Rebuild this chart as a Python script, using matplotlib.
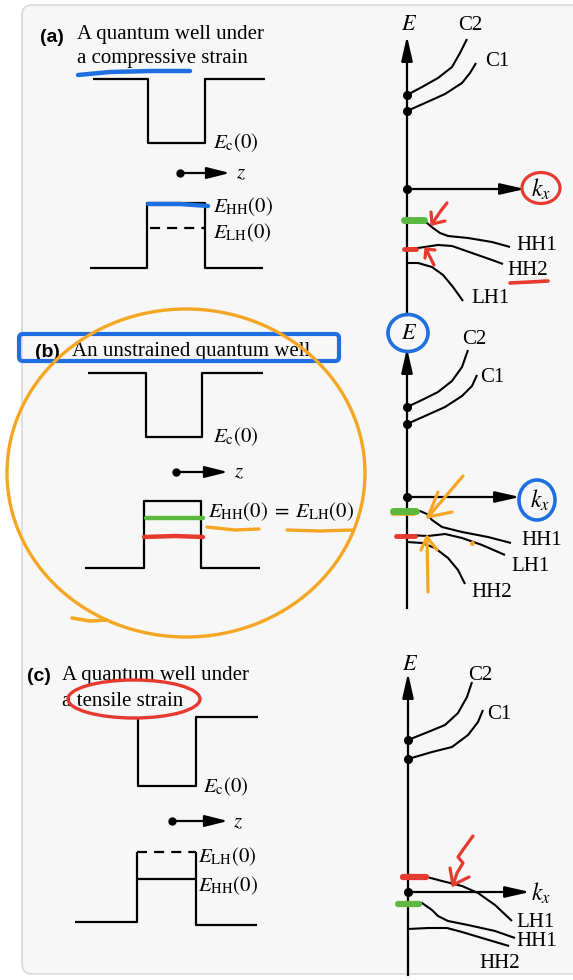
import matplotlib
matplotlib.use('Agg')
import matplotlib.pyplot as plt
from matplotlib.patches import Ellipse, FancyBboxPatch

plt.rcParams['mathtext.fontset'] = 'stix'

# ---------------- data (pixel coordinates of the reference diagram) ----------------
PANEL_TAGS = ["(a)", "(b)", "(c)"]
TITLE_LINE1 = ["A quantum well under", "An unstrained quantum well", "A quantum well under"]
TITLE_LINE2 = ["a compressive strain", "", "a tensile strain"]

# band dispersion curves (x, y)
A_C2 = [(407, 95), (422, 87), (438, 78), (452, 67), (460, 53), (467, 39)]
A_C1 = [(407, 111), (425, 103), (445, 94), (462, 83), (470, 73), (476, 63)]
A_HH1 = [(407, 222), (422, 220), (427, 223), (433, 228), (440, 233), (448, 236),
         (468, 238), (492, 242), (510, 247)]
A_HH2 = [(407, 249), (418, 248), (438, 245), (452, 246), (472, 253), (492, 260), (503, 264)]
A_LH1 = [(407, 263), (418, 263), (432, 267), (443, 275), (453, 287), (463, 301)]

B_C2 = [(407, 407), (422, 400), (438, 392), (452, 381), (462, 367), (468, 350)]
B_C1 = [(407, 424), (425, 416), (445, 407), (462, 396), (472, 386), (477, 375)]
B_HH1 = [(407, 511), (420, 511), (427, 514), (432, 520), (442, 527), (462, 532),
         (488, 537), (511, 543)]
B_LH1 = [(407, 535), (428, 536), (445, 534), (462, 538), (482, 545), (505, 555)]
B_HH2 = [(407, 542), (422, 543), (435, 548), (448, 558), (458, 570), (465, 584)]

C_C2 = [(408, 740), (428, 732), (445, 725), (458, 713), (467, 697), (472, 682)]
C_C1 = [(408, 759), (432, 752), (452, 747), (468, 735), (478, 722), (483, 710)]
C_LH1 = [(408, 876), (427, 877), (442, 881), (462, 886), (478, 893), (495, 905), (512, 921)]
C_HH1 = [(408, 902), (422, 903), (432, 910), (438, 916), (448, 921), (468, 925),
         (495, 931), (515, 938)]
C_HH2 = [(408, 929), (428, 928), (447, 928), (462, 932), (482, 938), (509, 946)]

CURVE_LABELS_A = [("C2", 458, 25), ("C1", 485, 62), ("HH1", 516, 245), ("HH2", 507, 270), ("LH1", 471, 298)]
CURVE_LABELS_B = [("C2", 462, 339), ("C1", 480, 377), ("HH1", 521, 540), ("LH1", 511, 566), ("HH2", 471, 592)]
CURVE_LABELS_C = [("C2", 468, 675), ("C1", 487, 714), ("LH1", 516, 922), ("HH1", 516, 941), ("HH2", 479, 963)]

# ---------------- figure ----------------
W, H = 573, 980
fig = plt.figure(figsize=(W / 100, H / 100), dpi=100)
ax = fig.add_axes([0, 0, 1, 1])
ax.set_xlim(0, W)
ax.set_ylim(H, 0)
ax.axis('off')

ax.add_patch(FancyBboxPatch((22, 5), 620, 969, boxstyle='round,pad=0,rounding_size=10',
                            fc='#f7f7f7', ec='#d9d9d9', lw=1.2, zorder=0))

K = 'black'
LW = 1.6
SERIF = 'Liberation Serif'
FS = 15

BLUE = '#1f6fe0'
RED = '#e63a2e'
GREEN = '#5cb840'
ORANGE = '#f5a623'


def poly(pts, **kw):
    xs = [p[0] for p in pts]
    ys = [p[1] for p in pts]
    kw.setdefault('color', K)
    kw.setdefault('lw', LW)
    ax.plot(xs, ys, solid_capstyle='butt', **kw)


def arrow(start, tip, hl=14, hw=3.5, lw=LW, color=K):
    ax.annotate('', xy=tip, xytext=start,
                arrowprops=dict(arrowstyle=f'-|>,head_length={hl},head_width={hw}',
                                mutation_scale=1, lw=lw, color=color,
                                shrinkA=0, shrinkB=0, fc=color))


def txt(x, y, s, size=FS, **kw):
    kw.setdefault('family', SERIF)
    ax.text(x, y, s, fontsize=size, ha='left', va='center', color=K, **kw)


def mark(x0, x1, y, color, lw=4):
    ax.plot([x0, x1], [y, y], color=color, lw=lw, solid_capstyle='round', zorder=5)


def hand(pts, color, lw=2.6):
    xs = [p[0] for p in pts]
    ys = [p[1] for p in pts]
    ax.plot(xs, ys, color=color, lw=lw, solid_capstyle='round', solid_joinstyle='round', zorder=6)


# ---------------- titles ----------------
tag_pos = [(40, 37), (35, 352), (27, 676)]
t1_pos = [(77, 35), (72, 351), (62, 675)]
t2_pos = [(77, 59), None, (62, 701)]
for i in range(3):
    ax.text(*tag_pos[i], PANEL_TAGS[i], fontsize=14, family='Liberation Sans', weight='bold',
            ha='left', va='center')
    txt(*t1_pos[i], TITLE_LINE1[i])
    if t2_pos[i] is not None:
        txt(*t2_pos[i], TITLE_LINE2[i])

# ---------------- left: wells ----------------
# (a)
poly([(93, 79), (148, 79), (148, 143), (205, 143), (205, 79), (265, 79)])
poly([(90, 268), (147, 268), (147, 203), (205, 203), (205, 268), (263, 268)])
ax.plot([150, 205], [228, 228], color=K, lw=LW, dashes=(4.5, 3.2))
txt(213, 143, r'$E_{\mathrm{c}}(0)$')
txt(213, 207, r'$E_{\mathrm{HH}}(0)$')
txt(213, 233, r'$E_{\mathrm{LH}}(0)$')
ax.plot([180], [173], 'o', color=K, ms=5)
arrow((180, 173), (230, 173))
txt(236, 174, r'$z$')

# (b)
poly([(88, 373), (146, 373), (146, 437), (202, 437), (202, 373), (263, 373)])
poly([(85, 568), (144, 568), (144, 501), (201, 501), (201, 568), (260, 568)])
txt(213, 437, r'$E_{\mathrm{c}}(0)$')
txt(208, 512, r'$E_{\mathrm{HH}}(0)\;=\;E_{\mathrm{LH}}(0)$')
ax.plot([176], [472], 'o', color=K, ms=5)
arrow((176, 472), (228, 472))
txt(234, 473, r'$z$')

# (c)
poly([(138, 717), (138, 786), (196, 786), (196, 717), (258, 717)])
poly([(75, 922), (137, 922), (137, 852)])
poly([(196, 852), (196, 925), (257, 925)])
ax.plot([137, 196], [852, 852], color=K, lw=LW, dashes=(4.5, 3.2))
poly([(137, 879), (196, 879)])
txt(203, 787, r'$E_{\mathrm{c}}(0)$')
txt(198, 857, r'$E_{\mathrm{LH}}(0)$')
txt(198, 886, r'$E_{\mathrm{HH}}(0)$')
ax.plot([172], [821], 'o', color=K, ms=5)
arrow((172, 821), (228, 821))
txt(233, 823, r'$z$')

# ---------------- right: band diagrams ----------------
axis_x = [407, 407, 408]
axis_top = [36, 348, 673]
axis_bot = [315, 608, 975]
E_pos = [(409, 24), (409, 333), (410, 664)]
kx_y = [189, 497, 892]
kx_end = [525, 520, 530]
kx_lab = [(541, 189), (540, 500), (541, 893)]
dots = [[95, 111, 189], [407, 424, 497], [740, 759, 892]]
curves = [[A_C2, A_C1, A_HH1, A_HH2, A_LH1],
          [B_C2, B_C1, B_HH1, B_LH1, B_HH2],
          [C_C2, C_C1, C_LH1, C_HH1, C_HH2]]
labels = [CURVE_LABELS_A, CURVE_LABELS_B, CURVE_LABELS_C]

for i in range(3):
    x = axis_x[i]
    ax.plot([x, x], [axis_bot[i], axis_top[i] + 12], color=K, lw=LW)
    arrow((x, axis_top[i] + 14), (x, axis_top[i]), hl=15, hw=3.4)
    ax.text(E_pos[i][0], E_pos[i][1], r'$E$', fontsize=FS + 1, ha='center', va='center')
    ax.plot([x, kx_end[i] - 10], [kx_y[i], kx_y[i]], color=K, lw=LW)
    arrow((kx_end[i] - 12, kx_y[i]), (kx_end[i], kx_y[i]), hl=15, hw=3.4)
    ax.text(kx_lab[i][0], kx_lab[i][1], r'$k_x$', fontsize=FS + 2, ha='center', va='center')
    ax.plot([x] * 3, dots[i], 'o', color=K, ms=5.5)
    for c in curves[i]:
        poly(c, lw=1.5)
    for (s, lx, ly) in labels[i]:
        txt(lx, ly, s)

# ---------------- hand annotations ----------------
# (a)
hand([(78, 75), (110, 72), (150, 71), (190, 71)], BLUE, lw=3.2)
hand([(148, 204), (180, 204), (208, 206)], BLUE, lw=3.2)
ax.add_patch(Ellipse((541, 188), 38, 31, fill=False, ec=RED, lw=2.3, zorder=6))
mark(404, 424, 220, GREEN, lw=5)
mark(404, 416, 249, RED, lw=3.5)
hand([(447, 203), (440, 212), (432, 224)], RED, lw=2.3)
hand([(431, 212), (432, 224), (445, 221)], RED, lw=2.3)
hand([(434, 265), (430, 257), (426, 249)], RED, lw=2.3)
hand([(425, 258), (426, 249), (435, 250)], RED, lw=2.3)
hand([(510, 283), (530, 282), (548, 281)], RED, lw=2.6)

# (b)
ax.add_patch(FancyBboxPatch((19, 334), 320, 27, boxstyle='round,pad=0,rounding_size=4',
                            fill=False, ec=BLUE, lw=3, zorder=6))
ax.add_patch(Ellipse((186, 473), 358, 328, fill=False, ec=ORANGE, lw=2.4, zorder=6))
hand([(72, 618), (90, 621), (107, 620)], ORANGE, lw=2.6)
hand([(146, 518), (175, 518), (203, 518)], GREEN, lw=3.2)
hand([(144, 537), (175, 536), (203, 537)], RED, lw=3.2)
hand([(207, 527), (235, 530), (259, 529)], ORANGE, lw=2.4)
hand([(287, 530), (320, 531), (352, 530)], ORANGE, lw=2.4)
ax.add_patch(Ellipse((408, 333), 40, 37, fill=False, ec=BLUE, lw=2.6, zorder=6))
ax.add_patch(Ellipse((537, 500), 36, 40, fill=False, ec=BLUE, lw=2.6, zorder=6))
mark(393, 414, 513, ORANGE, lw=4)
mark(393, 416, 511, GREEN, lw=5)
mark(396, 415, 536, RED, lw=3.5)
hand([(463, 476), (428, 517)], ORANGE, lw=2.3)
hand([(438, 492), (428, 517), (452, 512)], ORANGE, lw=2.3)
hand([(428, 592), (427, 537)], ORANGE, lw=2.3)
hand([(421, 550), (427, 537), (437, 550)], ORANGE, lw=2.3)
ax.plot([472], [543], 'o', color=ORANGE, ms=2.5, zorder=6)

# (c)
ax.add_patch(Ellipse((134, 699), 132, 38, fill=False, ec=RED, lw=2.4, zorder=6))
mark(403, 426, 877, RED, lw=4.5)
mark(398, 419, 904, GREEN, lw=4.5)
hand([(473, 836), (465, 847), (458, 857), (463, 863), (457, 873), (453, 885)], RED, lw=2.3)
hand([(450, 868), (453, 885), (469, 877)], RED, lw=2.3)

fig.savefig('out.png', dpi=100)
